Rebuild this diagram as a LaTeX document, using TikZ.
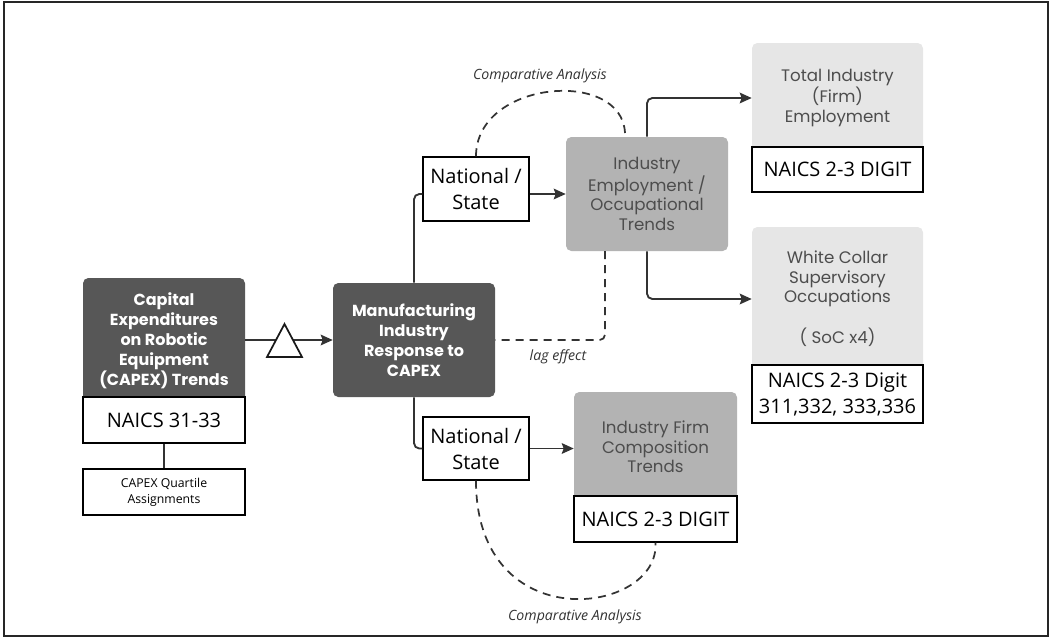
\documentclass[tikz,border=0pt]{standalone}
\usepackage{xcolor}
\usepackage{fontspec}
\setmainfont{Open Sans}
\newfontfamily\geofont{Poppins}
\usepackage{tikz}
\usetikzlibrary{arrows.meta}

\definecolor{capexdark}{HTML}{575757}
\definecolor{trendmid}{HTML}{B3B3B3}
\definecolor{outlight}{HTML}{E6E6E6}
\definecolor{trendtext}{HTML}{4D4D4D}
\definecolor{wiregray}{HTML}{333333}

\begin{document}
\begin{tikzpicture}[x=0.75pt,y=0.75pt,yscale=-1,xscale=1,
  darkbox/.style={fill=capexdark,rounded corners=4pt,text=white,align=center,inner sep=0pt,font=\geofont\bfseries\fontsize{12}{15}\selectfont},
  midbox/.style={fill=trendmid,rounded corners=4pt,text=trendtext,align=center,inner sep=0pt,font=\geofont\fontsize{12.5}{14.6}\selectfont},
  lightbox/.style={midbox,fill=outlight},
  whitebox/.style={draw=black,fill=white,line width=1.1pt,align=center,inner sep=0pt,font=\fontsize{15}{19.5}\selectfont},
  link/.style={draw=wiregray,line width=1.4pt,rounded corners=4pt},
  dashlink/.style={draw=wiregray,line width=1.3pt,rounded corners=4pt,dash pattern=on 6pt off 4.5pt},
  notelabel/.style={inner sep=0.75pt,text=black!80,font=\itshape\fontsize{10.6}{12}\selectfont},
  >={Stealth[length=9pt,width=8pt,inset=1.5pt]}]
%set diagram size to 1050 x 639
\useasboundingbox (0,0) rectangle (1050,639);
%Shape: Rectangle (frame)
\draw [line width=1.5pt,draw=black!85] (4,2) rectangle (1048,636);

%Shape: Capex block
\draw (164,340.5) node (capex) [darkbox,minimum width=121.5pt,minimum height=93.75pt] {Capital\\Expenditures\\on Robotic\\Equipment\\(CAPEX) Trends};
\draw (164,420) node (naics31) [whitebox,minimum width=121.5pt,minimum height=34.5pt] {NAICS 31-33};
\draw (164,492) node (quartile) [whitebox,minimum width=121.5pt,minimum height=34.5pt,font=\fontsize{9.2}{12}\selectfont] {CAPEX Quartile\\Assignments};
%Shape: Manufacturing block
\draw (414,340) node (manuf) [darkbox,minimum width=121.5pt,minimum height=85.5pt] {Manufacturing\\Industry\\Response to\\CAPEX};
%Shape: National / State
\draw (476,189) node (nat1) [whitebox,minimum width=79.5pt,minimum height=48pt] {National /\\State};
\draw (476,448.5) node (nat2) [whitebox,minimum width=79.5pt,minimum height=47.25pt] {National /\\State};
%Shape: Trends blocks
\draw (647,194) node (emp) [midbox,minimum width=121.5pt,minimum height=85.5pt] {Industry\\Employment /\\Occupational\\Trends};
\draw (655.5,447) node (firm) [midbox,minimum width=122.25pt,minimum height=82.5pt] {Industry Firm\\Composition\\Trends};
\draw (655.5,519) node (nfirm) [whitebox,minimum width=122.25pt,minimum height=34.5pt] {NAICS 2-3 DIGIT};
%Shape: Outcome blocks
\draw (837.5,98) node (total) [lightbox,minimum width=128.25pt,minimum height=82.5pt] {Total Industry\\(Firm)\\Employment};
\draw (837.5,169.5) node (ntotal) [whitebox,minimum width=128.25pt,minimum height=33.75pt] {NAICS 2-3 DIGIT};
\draw (837.5,299) node (white) [lightbox,minimum width=128.25pt,minimum height=108pt] {White Collar\\Supervisory\\Occupations\\[14.6pt]( SoC x4)};
\draw (837.5,394) node (nwhite) [whitebox,minimum width=128.25pt,minimum height=43.5pt] {NAICS 2-3 Digit\\311,332, 333,336};

%Straight Lines
\draw [link] (naics31) -- (quartile);
\draw [link,->] (capex.east |- manuf.west) -- (manuf.west);
%Shape: Triangle
\draw [fill=white,line width=1.3pt,draw=black!90] (267,357) -- (284.5,324) -- (302,357) -- cycle;
\draw [link] (manuf.north) |- (nat1.west |- emp.west);
\draw [link,->] (nat1.east |- emp.west) -- (emp.west);
\draw [link] (manuf.south) |- (nat2.west);
\draw [link,->] (nat2.east) -- (nat2.east -| firm.west);
\draw [link,->] (emp.north) |- (total.west);
\draw [link,->] (emp.south) |- (white.west);

%Dashed Lines
\coordinate (lagtop) at (605,251);
\coordinate (cmpend) at (625,133);
\draw [dashlink] (lagtop) |- (manuf.east);
\draw [dashlink] (nat1.north) .. controls (476,80) and (622,68) .. (cmpend);
\draw [dashlink] (nat2.south) .. controls (476,640) and (660,615) .. (nfirm.south);

% Text Node
\draw (540,76) node (cmptop) [notelabel] {Comparative Analysis};
% Text Node
\draw (558,357) node (lag) [notelabel] {lag effect};
% Text Node
\draw (575,617) node (cmpbot) [notelabel] {Comparative Analysis};
\end{tikzpicture}
\end{document}
